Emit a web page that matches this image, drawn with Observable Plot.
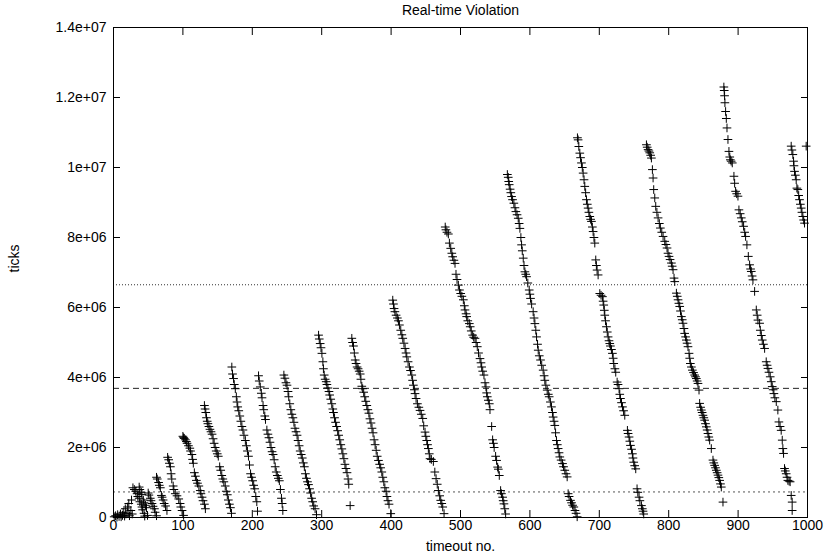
<!DOCTYPE html>
<html><head><meta charset="utf-8">
<script src="https://cdn.jsdelivr.net/npm/d3@7"></script>
<script src="https://cdn.jsdelivr.net/npm/@observablehq/plot@0.6"></script>
<style>body{margin:0;background:#fff}</style>
</head><body><div id="chart"></div>
<script>
const titleText = "Real-time Violation";
const xLabelText = "timeout no.";
const yLabelText = "ticks";
const xTicks = [0,100,200,300,400,500,600,700,800,900,1000];
const xTickLabels = ["0","100","200","300","400","500","600","700","800","900","1000"];
const yTicks = [0,2e6,4e6,6e6,8e6,1e7,1.2e7,1.4e7];
const yTickLabels = ["0","2e+06","4e+06","6e+06","8e+06","1e+07","1.2e+07","1.4e+07"];
// reference levels (ticks)
const refLevels = [6.65e6, 3.69e6, 0.73e6];

// segments: [timeout no., ticks in millions]
const segEarly = [[1,0.02],[3,0.05],[5,0.01],[6,0.08],[8,0.03],[10,0.1],[11,0.02],[13,0.06],[14,0.15],[16,0.04],[17,0.25],[18,0.1],[20,0.3],[21,0.12],[22,0.4],[23,0.05],[25,0.2],[26,0.5],[27,0.1]];
const seg28 = [[28,0.85],[30,0.8],[32,0.75],[34,0.68],[35,0.6],[37,0.55],[38,0.45],[40,0.38],[41,0.3],[42,0.22],[44,0.12],[45,0.04]];
const seg37 = [[37,0.87],[38,0.8],[40,0.72],[41,0.66],[43,0.5],[44,0.42],[46,0.35],[47.5,0.28],[49,0.06]];
const seg50 = [[50,0.7],[51,0.64],[53,0.55],[54,0.48],[55.5,0.4],[57,0.32],[59,0.25],[60,0.15],[62,0.05]];
const seg62 = [[62,1.15],[63,1.1],[65,1.0],[66,0.92],[67.5,0.85],[69,0.63],[70,0.58],[71.5,0.5],[73,0.4],[75,0.33],[77,0.2]];
const seg78 = [[78,1.72],[79.5,1.65],[80.5,1.55],[82,1.45],[83,1.25],[84,1.1],[86,0.9],[87,0.8],[89,0.68],[91.5,0.62],[94,0.53],[96,0.4],[97,0.3],[98.8,0.2],[101,0.06]];
const seg100 = [[100,2.32],[101,2.28],[102,2.26],[103.6,2.22],[105,2.17],[106,2.12],[108,2.05],[110,1.98],[111,1.9],[113,1.8],[114,1.66],[115,1.55],[116.5,1.28],[118,1.18],[119.4,1.06],[121,0.98],[123,0.9],[125,0.77],[126,0.68],[127.6,0.58],[129,0.48],[131,0.38],[132.4,0.25]];
const seg131 = [[131,3.2],[132,3.1],[133,3.0],[134,2.85],[135,2.75],[136,2.68],[137.5,2.6],[139,2.52],[140.5,2.45],[142,2.38],[143.5,2.25],[145,2.12],[146.5,2.0],[148,1.9],[149.5,1.82],[151,1.75],[153,1.45],[154.5,1.35],[156,1.2],[157.5,1.1],[159,1.02],[161,0.9],[162.5,0.75],[164,0.65],[165.5,0.5],[167,0.38],[168.5,0.28],[170,0.12]];
const seg170 = [[170.5,4.3],[171.5,4.1],[173,3.97],[174,3.8],[175.5,3.68],[177,3.45],[178,3.3],[179,3.16],[180.5,3.05],[182,2.9],[183.5,2.75],[185,2.6],[186.5,2.5],[188,2.35],[190,2.2],[191.5,2.05],[193,1.9],[194.5,1.75],[196,1.5],[197.5,1.25],[199,1.15],[200.5,1.05],[202,0.92],[203.5,0.82],[205,0.6],[206.5,0.45],[207.5,0.18]];
const seg209 = [[209,4.05],[210,3.9],[211.5,3.73],[213,3.55],[214,3.42],[215.5,3.2],[216.5,3.08],[218,2.9],[219,2.8],[221,2.5],[222.5,2.38],[224,2.28],[225.5,2.15],[227,2.0],[228.5,1.88],[230,1.8],[231.5,1.65],[233,1.45],[234.5,1.3],[236,1.2],[237.5,1.12],[239,1.05],[240.5,0.8],[242,0.55],[243,0.4],[244,0.2]];
const seg245 = [[245.5,4.07],[247,3.98],[248.5,3.85],[250,3.78],[251.5,3.6],[252.5,3.45],[254,3.25],[255.5,3.08],[257,2.95],[258.5,2.85],[260,2.72],[261.5,2.55],[263,2.45],[264.5,2.35],[266,2.2],[267.5,2.05],[269,1.9],[270.5,1.8],[272,1.7],[273.5,1.56],[275,1.45],[276.5,1.25],[278,1.12],[279.5,1.02],[281,0.94],[282.5,0.82],[284,0.7],[285.5,0.55],[287,0.45],[288.5,0.33],[290.5,0.25],[292.5,0.08]];
const seg295 = [[295.5,5.21],[296.5,5.1],[297.8,4.97],[299,4.85],[300.3,4.69],[301.7,4.45],[302.5,4.25],[303.6,4.07],[305,3.95],[306.5,3.88],[307.5,3.8],[309,3.7],[310.5,3.6],[311.5,3.5],[313,3.38],[314.5,3.25],[316,3.1],[317,3.0],[318.5,2.85],[320,2.72],[321.5,2.6],[323,2.48],[324.5,2.35],[326,2.22],[327.5,2.08],[329,1.96],[330.5,1.82],[332,1.68],[333.5,1.52],[335,1.4],[336.5,1.28],[338,1.1],[339,0.95],[341,0.34]];
const seg343 = [[343.4,5.12],[344.5,5.0],[345.8,4.9],[347,4.7],[348.3,4.5],[349.5,4.4],[351,4.3],[352.5,4.25],[354,4.18],[355.5,4.1],[356.5,3.95],[357.8,3.75],[359,3.68],[360.5,3.58],[362,3.45],[363.5,3.32],[365,3.2],[366.5,3.08],[368,2.98],[369.5,2.82],[371,2.7],[372.5,2.55],[374,2.42],[375.5,2.22],[377,2.08],[378.5,1.92],[380,1.75],[381.8,1.63],[383.5,1.52],[385,1.42],[386.6,1.3],[388,1.15],[389.5,1.02],[391,0.85],[392.8,0.75],[394,0.6],[395.5,0.48],[397,0.38],[399.5,0.11]];
const seg402 = [[402.4,6.21],[403.4,6.1],[404.3,5.97],[405.5,5.88],[407.2,5.78],[409,5.7],[410.6,5.62],[412,5.5],[413.9,5.35],[415.5,5.22],[416.8,5.12],[418.5,4.98],[420.2,4.83],[421.5,4.7],[422.6,4.59],[424.5,4.45],[426.4,4.3],[428,4.2],[429.8,4.07],[431,3.92],[432.1,3.78],[433.5,3.65],[434.5,3.54],[436,3.4],[437.9,3.25],[440,3.15],[441.7,3.06],[443.5,2.95],[445.6,2.83],[447,2.62],[448.9,2.44],[450,2.32],[451.4,2.2],[452.5,2.08],[453.7,1.97],[455,1.82],[456.1,1.68],[458,1.66],[460.9,1.6],[463,1.3],[464.8,1.11],[466.5,0.95],[468.1,0.77],[470,0.62],[471.5,0.49],[473,0.4],[474.4,0.3],[476.3,0.11]];
const seg478 = [[478,8.3],[479,8.22],[480.5,8.15],[482.5,8.1],[484,7.84],[485.9,7.69],[487.5,7.55],[488.7,7.45],[490.5,7.35],[492.1,7.26],[493.5,6.95],[495,6.8],[496.9,6.64],[498.5,6.5],[500.3,6.4],[502,6.32],[504.1,6.22],[505.5,6.05],[506.5,5.93],[508,5.82],[508.9,5.74],[510.5,5.62],[512.7,5.54],[514,5.45],[515.5,5.33],[517.5,5.21],[519,5.15],[520.9,5.12],[522.5,5.0],[524.2,4.88],[526,4.7],[528.1,4.54],[529.5,4.42],[530.5,4.3],[532,4.18],[533.8,4.07],[535.3,3.85],[536.7,3.73],[537.7,3.56],[538.6,3.45],[540.1,3.35],[541.5,3.25],[542.5,3.08],[544.9,2.6],[546.3,2.22],[547.5,2.12],[548.5,2.0],[550.6,1.75],[552,1.63],[553.5,1.44],[554.5,1.38],[555.9,1.2],[557.8,0.77],[559,0.68],[560.7,0.58],[561.5,0.48],[562.6,0.39],[563.8,0.25],[565,0.1]];
const seg567 = [[567.5,9.8],[568.8,9.72],[569.5,9.6],[570.2,9.51],[571.5,9.38],[572.5,9.28],[573.6,9.17],[575,9.08],[576.9,8.98],[578.5,8.85],[579.8,8.74],[581.5,8.65],[583.2,8.55],[584.5,8.4],[585.6,8.26],[587,8.0],[588,7.79],[589,7.62],[590.4,7.41],[591.5,7.2],[592.8,7.02],[594,6.95],[595.2,6.88],[597,6.7],[599,6.5],[600,6.38],[600.9,6.26],[602.5,6.1],[604.7,5.88],[606,5.7],[607.2,5.54],[608.5,5.35],[609.6,5.16],[611,4.95],[612,4.78],[613.5,4.62],[615.3,4.5],[617,4.35],[619.1,4.21],[620.5,4.05],[621.5,3.92],[623,3.78],[624.9,3.64],[626.5,3.52],[627.8,3.45],[629.5,3.3],[631.1,3.16],[632.5,3.0],[633.5,2.87],[634.8,2.75],[635.9,2.63],[637,2.42],[638.3,2.2],[639.5,2.08],[640.7,1.97],[642,1.85],[643.1,1.73],[645,1.64],[647,1.54],[648.5,1.45],[650.3,1.35],[652,1.25],[653.7,1.16],[655.1,0.68],[656.5,0.6],[658.5,0.49],[660,0.42],[661.5,0.35],[663.3,0.3],[665,0.2],[666.5,0.12],[668.1,0.02]];
const seg668 = [[668.5,10.85],[669.5,10.79],[670.5,10.6],[671.9,10.41],[673,10.28],[674.3,10.13],[675.5,10.0],[676.7,9.84],[678,9.65],[679.1,9.46],[680.3,9.28],[681.5,9.08],[682.7,8.95],[683.9,8.84],[685,8.72],[686.3,8.6],[687.5,8.52],[688.7,8.46],[690,8.3],[691.1,8.17],[692.3,8.0],[693.5,7.84],[694.9,7.36],[695.8,7.2],[696.8,7.07],[698.3,6.93],[700.7,6.4],[702.5,6.35],[704.5,6.31],[705.5,6.18],[706.4,6.07],[707.2,5.92],[707.9,5.78],[709,5.62],[710.3,5.45],[711.5,5.3],[712.7,5.16],[714,5.05],[715.1,4.97],[716,4.9],[717.5,4.8],[718.9,4.69],[720,4.55],[720.8,4.4],[722.5,4.25],[723.7,4.15],[725.7,3.87],[727,3.8],[728.5,3.68],[729.5,3.52],[730.5,3.4],[732,3.28],[733.4,3.16],[735,3.05],[736.7,2.92],[740.5,2.49],[741.5,2.4],[742.9,2.3],[744,2.18],[744.9,2.06],[746.5,1.95],[747.7,1.82],[748.5,1.7],[749.6,1.58],[751,1.48],[752.5,1.39],[754.4,0.82],[755.5,0.72],[757.3,0.58],[758.5,0.48],[760.7,0.34],[762,0.25],[763,0.18],[764,0.1]];
const seg768 = [[767.9,10.65],[769,10.58],[770.3,10.51],[771.5,10.47],[772.7,10.42],[774,10.35],[775.1,10.27],[776.5,9.94],[777.5,9.7],[778.4,9.37],[779.9,9.13],[781.3,8.89],[783,8.72],[784.7,8.56],[786.5,8.4],[788,8.27],[790,8.15],[791.9,8.03],[794.3,7.89],[796,7.8],[797.6,7.7],[799,7.55],[800.5,7.46],[802,7.37],[803.9,7.27],[805,7.18],[806.3,7.08],[807.7,6.84],[808.7,6.74],[811.1,6.41],[812.3,6.32],[813.5,6.22],[814.7,6.12],[815.9,6.03],[817,5.9],[818.3,5.74],[819.5,5.65],[820.6,5.55],[822,5.4],[823,5.26],[824.3,5.16],[825.4,5.07],[826.5,4.98],[827.8,4.88],[829.3,4.69],[830.3,4.55],[831.2,4.4],[832.7,4.3],[834.1,4.21],[835.8,4.14],[837.4,4.07],[838.6,4.02],[839.8,3.97],[841,3.9],[842.2,3.83],[843.7,3.64],[844.6,3.26],[846,3.15],[847,3.07],[848.2,3.0],[849.4,2.92],[850.6,2.85],[851.8,2.78],[853,2.68],[854.2,2.59],[855.4,2.5],[856.6,2.4],[857.8,2.3],[859,2.21],[861.4,1.97],[863.8,1.64],[865,1.56],[866.2,1.49],[867.4,1.42],[868.6,1.35],[869.8,1.28],[871,1.21],[872.2,1.14],[873.4,1.06],[874.6,0.96],[875.8,0.87],[878.2,0.44]];
const seg880 = [[879.5,12.3],[880,12.2],[880.5,12.05],[881,11.85],[882,11.6],[883,11.4],[884,11.13],[885.4,10.8],[886.8,10.46],[888,10.3],[888.8,10.22],[890,10.18],[891.6,10.13],[894,9.75],[895,9.55],[896.4,9.32],[898,9.25],[899.8,9.18],[901.2,8.79],[903,8.68],[904.6,8.56],[906,8.45],[907.9,8.32],[909.5,8.15],[910.8,8.03],[912.7,7.79],[914.7,7.46],[916.6,7.22],[918,7.1],[919,7.03],[920.2,6.9],[921.4,6.79],[923.8,6.46],[926.2,5.93],[927.5,5.78],[928.6,5.64],[931,5.55],[932,5.35],[933.5,5.2],[934.8,5.07],[936.5,4.95],[938.2,4.83],[940.5,4.45],[941.8,4.35],[943,4.26],[944.5,4.15],[946.3,4.02],[947.8,3.88],[949.2,3.74],[950.5,3.65],[951.6,3.54],[953,3.42],[955,3.31],[957.3,3.07],[958.8,2.73],[960.5,2.6],[962.1,2.49],[963.6,2.21],[964.5,1.97],[965.5,1.83],[966.9,1.4],[968,1.33],[969.3,1.25],[970.5,1.15],[971.7,1.06],[973.5,1.04],[975,1.02],[976.5,0.63],[977.9,0.44],[977.9,0.2]];
const seg977 = [[976.5,10.61],[977.5,10.5],[978.9,10.37],[979.9,10.18],[980.5,10.05],[981.3,9.89],[982.5,9.78],[983.7,9.65],[984.7,9.41],[986.1,9.37],[987.3,9.2],[988.5,9.08],[989.7,8.95],[990.9,8.84],[992,8.72],[993.3,8.6],[994.5,8.5],[995.7,8.41],[998.1,10.61]];

const segments = [segEarly, seg28, seg37, seg50, seg62, seg78, seg100, seg131, seg170, seg209, seg245, seg295, seg343, seg402, seg478, seg567, seg668, seg768, seg880, seg977];
const points = segments.flat().map(([x, m]) => ({x, y: m * 1e6}));

const FONT = "'Liberation Sans Narrow', 'Liberation Sans', Arial, Helvetica, sans-serif";

const chart = Plot.plot({
  width: 826,
  height: 559,
  marginLeft: 113,
  marginRight: 19,
  marginTop: 27,
  marginBottom: 42,
  style: {fontFamily: FONT, fontSize: "14px", color: "black", background: "white", overflow: "visible"},
  x: {domain: [0, 1000]},
  y: {domain: [0, 1.4e7]},
  marks: [
    Plot.ruleY([refLevels[0]], {stroke: "#333", strokeWidth: 1, strokeDasharray: "1,2"}),
    Plot.ruleY([refLevels[1]], {stroke: "#222", strokeWidth: 1, strokeDasharray: "6,4"}),
    Plot.ruleY([refLevels[2]], {stroke: "#555", strokeWidth: 1, strokeDasharray: "2,3"}),
    Plot.dot(points, {x: "x", y: "y", symbol: "plus", r: 2.9, stroke: "black", strokeWidth: 1}),
    Plot.frame({stroke: "black", strokeWidth: 1}),
    Plot.axisX(xTicks, {anchor: "bottom", tickSize: -7, tickPadding: 10, tickFormat: d => xTickLabels[xTicks.indexOf(d)], label: null}),
    Plot.axisX(xTicks, {anchor: "top", tickSize: -7, tickFormat: () => "", label: null}),
    Plot.axisY(yTicks, {anchor: "left", tickSize: -7, tickPadding: 14, tickFormat: d => yTickLabels[yTicks.indexOf(d)], label: null}),
    Plot.axisY(yTicks, {anchor: "right", tickSize: -7, tickFormat: () => "", label: null}),
    Plot.text([titleText], {text: d => d, frameAnchor: "top", dy: -22, fontSize: 14}),
    Plot.text([xLabelText], {text: d => d, frameAnchor: "bottom", dy: 33, fontSize: 14}),
    Plot.text([yLabelText], {text: d => d, frameAnchor: "left", dx: -99, rotate: -90, fontSize: 14})
  ]
});
document.getElementById("chart").appendChild(chart);
</script>
</body></html>
